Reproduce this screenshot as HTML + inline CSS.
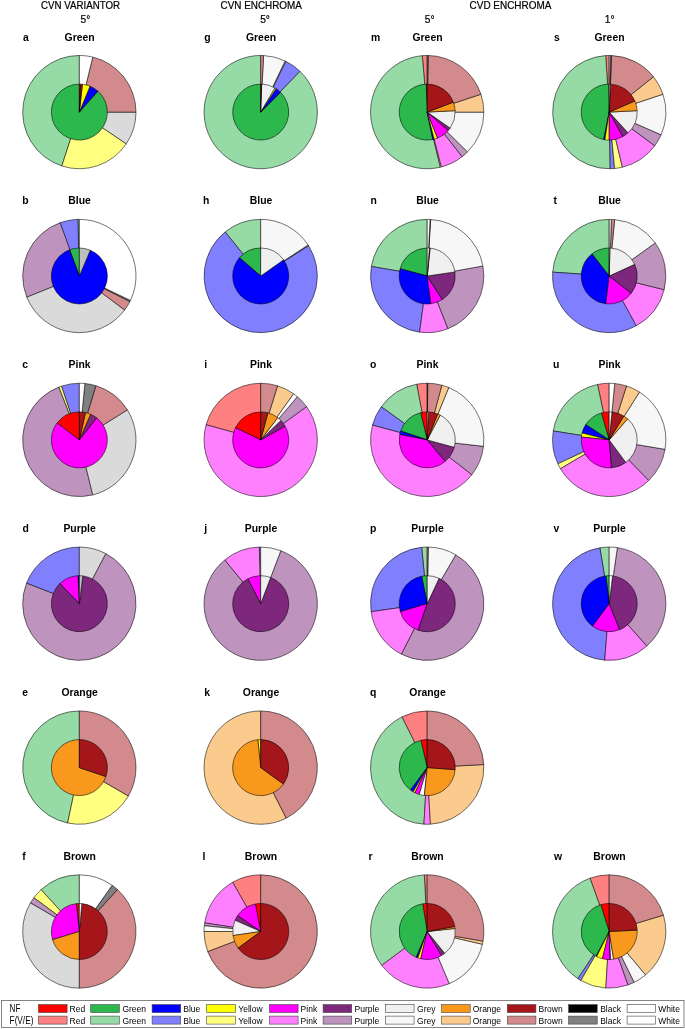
<!DOCTYPE html>
<html><head><meta charset="utf-8"><title>Figure</title>
<style>
html,body{margin:0;padding:0;background:#fff}
svg{display:block}
text{font-family:"Liberation Sans",sans-serif;fill:#000}
.b{font-weight:bold;font-size:10.4px}
.h{font-size:10.2px;stroke:#000;stroke-width:0.2px}
.l{font-size:8.5px}
.l2{font-size:10px}
</style></head><body>
<svg width="685" height="1029" viewBox="0 0 685 1029">
<rect width="685" height="1029" fill="#fff"/>
<g stroke="#000" stroke-width="0.55" stroke-linejoin="round"><path d="M79.35 112.10L79.35 55.45A56.65 56.65 0 0 0 61.84 165.98Z" fill="#96dba6"/><path d="M79.35 112.10L61.84 165.98A56.65 56.65 0 0 0 126.31 143.78Z" fill="#ffff80"/><path d="M79.35 112.10L126.31 143.78A56.65 56.65 0 0 0 136.00 112.10Z" fill="#dadada"/><path d="M79.35 112.10L136.00 112.10A56.65 56.65 0 0 0 92.77 57.06Z" fill="#d28a8c"/><path d="M79.35 112.10L92.77 57.06A56.65 56.65 0 0 0 79.35 55.45Z" fill="#ffffff"/><path d="M79.35 112.10L79.35 84.10A28.0 28.0 0 1 0 97.87 91.10Z" fill="#2db84d"/><path d="M79.35 112.10L97.87 91.10A28.0 28.0 0 0 0 89.97 86.19Z" fill="#0000ff"/><path d="M79.35 112.10L89.97 86.19A28.0 28.0 0 0 0 82.47 84.27Z" fill="#ffff00"/><path d="M79.35 112.10L82.47 84.27A28.0 28.0 0 0 0 80.57 84.13Z" fill="#a5161a"/><path d="M79.35 112.10L80.57 84.13A28.0 28.0 0 0 0 79.35 84.10Z" fill="#ff0000"/></g>
<text x="23.0" y="41.0" class="b">a</text>
<text x="79.6" y="41.0" class="b" text-anchor="middle">Green</text>
<g stroke="#000" stroke-width="0.55" stroke-linejoin="round"><path d="M260.70 112.10L260.70 55.45A56.65 56.65 0 1 0 299.91 71.21Z" fill="#96dba6"/><path d="M260.70 112.10L299.91 71.21A56.65 56.65 0 0 0 285.80 61.31Z" fill="#8080ff"/><path d="M260.70 112.10L285.80 61.31A56.65 56.65 0 0 0 285.09 60.97Z" fill="#ffff80"/><path d="M260.70 112.10L285.09 60.97A56.65 56.65 0 0 0 263.57 55.52Z" fill="#f7f7f7"/><path d="M260.70 112.10L263.57 55.52A56.65 56.65 0 0 0 260.70 55.45Z" fill="#d28a8c"/><path d="M260.70 112.10L260.70 84.10A28.0 28.0 0 1 0 280.50 92.30Z" fill="#2db84d"/><path d="M260.70 112.10L280.50 92.30A28.0 28.0 0 0 0 276.15 88.75Z" fill="#0000ff"/><path d="M260.70 112.10L276.15 88.75A28.0 28.0 0 0 0 274.91 87.97Z" fill="#ffff00"/><path d="M260.70 112.10L274.91 87.97A28.0 28.0 0 0 0 261.68 84.12Z" fill="#f0f0f0"/><path d="M260.70 112.10L261.68 84.12A28.0 28.0 0 0 0 260.70 84.10Z" fill="#a5161a"/></g>
<text x="204.2" y="41.0" class="b">g</text>
<text x="261.0" y="41.0" class="b" text-anchor="middle">Green</text>
<g stroke="#000" stroke-width="0.55" stroke-linejoin="round"><path d="M427.20 112.10L427.20 55.45A56.65 56.65 0 0 0 422.26 55.67Z" fill="#ff8080"/><path d="M427.20 112.10L422.26 55.67A56.65 56.65 0 1 0 440.33 167.21Z" fill="#96dba6"/><path d="M427.20 112.10L440.33 167.21A56.65 56.65 0 0 0 441.38 166.95Z" fill="#ffff80"/><path d="M427.20 112.10L441.38 166.95A56.65 56.65 0 0 0 462.16 156.68Z" fill="#ff80ff"/><path d="M427.20 112.10L462.16 156.68A56.65 56.65 0 0 0 467.54 151.88Z" fill="#be93be"/><path d="M427.20 112.10L467.54 151.88A56.65 56.65 0 0 0 483.85 112.10Z" fill="#f7f7f7"/><path d="M427.20 112.10L483.85 112.10A56.65 56.65 0 0 0 480.95 94.22Z" fill="#fbcb8e"/><path d="M427.20 112.10L480.95 94.22A56.65 56.65 0 0 0 428.19 55.46Z" fill="#d28a8c"/><path d="M427.20 112.10L428.19 55.46A56.65 56.65 0 0 0 427.20 55.45Z" fill="#808080"/><path d="M427.20 112.10L427.20 84.10A28.0 28.0 0 0 0 426.22 84.12Z" fill="#ff0000"/><path d="M427.20 112.10L426.22 84.12A28.0 28.0 0 1 0 432.83 139.53Z" fill="#2db84d"/><path d="M427.20 112.10L432.83 139.53A28.0 28.0 0 0 0 434.21 139.21Z" fill="#0000ff"/><path d="M427.20 112.10L434.21 139.21A28.0 28.0 0 0 0 437.55 138.12Z" fill="#ffff00"/><path d="M427.20 112.10L437.55 138.12A28.0 28.0 0 0 0 448.30 130.51Z" fill="#ff00ff"/><path d="M427.20 112.10L448.30 130.51A28.0 28.0 0 0 0 450.16 128.12Z" fill="#7d287d"/><path d="M427.20 112.10L450.16 128.12A28.0 28.0 0 0 0 455.16 110.68Z" fill="#f0f0f0"/><path d="M427.20 112.10L455.16 110.68A28.0 28.0 0 0 0 453.38 102.16Z" fill="#f8981d"/><path d="M427.20 112.10L453.38 102.16A28.0 28.0 0 0 0 427.20 84.10Z" fill="#a5161a"/></g>
<text x="370.9" y="41.0" class="b">m</text>
<text x="427.5" y="41.0" class="b" text-anchor="middle">Green</text>
<g stroke="#000" stroke-width="0.55" stroke-linejoin="round"><path d="M609.20 112.10L609.20 55.45A56.65 56.65 0 0 0 605.74 55.56Z" fill="#ff8080"/><path d="M609.20 112.10L605.74 55.56A56.65 56.65 0 0 0 610.19 168.74Z" fill="#96dba6"/><path d="M609.20 112.10L610.19 168.74A56.65 56.65 0 0 0 614.63 168.49Z" fill="#8080ff"/><path d="M609.20 112.10L614.63 168.49A56.65 56.65 0 0 0 622.42 167.18Z" fill="#ffff80"/><path d="M609.20 112.10L622.42 167.18A56.65 56.65 0 0 0 654.80 145.72Z" fill="#ff80ff"/><path d="M609.20 112.10L654.80 145.72A56.65 56.65 0 0 0 661.11 134.78Z" fill="#be93be"/><path d="M609.20 112.10L661.11 134.78A56.65 56.65 0 0 0 662.95 94.22Z" fill="#f7f7f7"/><path d="M609.20 112.10L662.95 94.22A56.65 56.65 0 0 0 653.47 76.76Z" fill="#fbcb8e"/><path d="M609.20 112.10L653.47 76.76A56.65 56.65 0 0 0 611.57 55.50Z" fill="#d28a8c"/><path d="M609.20 112.10L611.57 55.50A56.65 56.65 0 0 0 610.39 55.46Z" fill="#808080"/><path d="M609.20 112.10L610.39 55.46A56.65 56.65 0 0 0 609.20 55.45Z" fill="#ffffff"/><path d="M609.20 112.10L609.20 84.10A28.0 28.0 0 0 0 608.71 84.10Z" fill="#ff0000"/><path d="M609.20 112.10L608.71 84.10A28.0 28.0 0 0 0 603.71 139.56Z" fill="#2db84d"/><path d="M609.20 112.10L603.71 139.56A28.0 28.0 0 0 0 604.96 139.78Z" fill="#0000ff"/><path d="M609.20 112.10L604.96 139.78A28.0 28.0 0 0 0 609.20 140.10Z" fill="#ffff00"/><path d="M609.20 112.10L609.20 140.10A28.0 28.0 0 0 0 622.77 136.59Z" fill="#ff00ff"/><path d="M609.20 112.10L622.77 136.59A28.0 28.0 0 0 0 628.01 132.84Z" fill="#7d287d"/><path d="M609.20 112.10L628.01 132.84A28.0 28.0 0 0 0 637.16 110.68Z" fill="#f0f0f0"/><path d="M609.20 112.10L637.16 110.68A28.0 28.0 0 0 0 634.88 100.94Z" fill="#f8981d"/><path d="M609.20 112.10L634.88 100.94A28.0 28.0 0 0 0 610.42 84.13Z" fill="#a5161a"/><path d="M609.20 112.10L610.42 84.13A28.0 28.0 0 0 0 609.20 84.10Z" fill="#f0f0f0"/></g>
<text x="554.0" y="41.0" class="b">s</text>
<text x="609.5" y="41.0" class="b" text-anchor="middle">Green</text>
<g stroke="#000" stroke-width="0.55" stroke-linejoin="round"><path d="M79.35 276.00L79.35 219.35A56.65 56.65 0 0 0 77.87 219.37Z" fill="#96dba6"/><path d="M79.35 276.00L77.87 219.37A56.65 56.65 0 0 0 60.07 222.73Z" fill="#8080ff"/><path d="M79.35 276.00L60.07 222.73A56.65 56.65 0 0 0 26.83 297.22Z" fill="#be93be"/><path d="M79.35 276.00L26.83 297.22A56.65 56.65 0 0 0 124.65 310.01Z" fill="#dadada"/><path d="M79.35 276.00L124.65 310.01A56.65 56.65 0 0 0 129.91 301.54Z" fill="#d28a8c"/><path d="M79.35 276.00L129.91 301.54A56.65 56.65 0 0 0 130.48 300.39Z" fill="#808080"/><path d="M79.35 276.00L130.48 300.39A56.65 56.65 0 0 0 79.35 219.35Z" fill="#ffffff"/><path d="M79.35 276.00L79.35 248.00A28.0 28.0 0 0 0 69.59 249.76Z" fill="#2db84d"/><path d="M79.35 276.00L69.59 249.76A28.0 28.0 0 1 0 90.29 250.23Z" fill="#0000ff"/><path d="M79.35 276.00L90.29 250.23A28.0 28.0 0 0 0 79.35 248.00Z" fill="#bfbfbf"/></g>
<text x="22.2" y="204.0" class="b">b</text>
<text x="79.6" y="204.0" class="b" text-anchor="middle">Blue</text>
<g stroke="#000" stroke-width="0.55" stroke-linejoin="round"><path d="M260.70 276.00L260.70 219.35A56.65 56.65 0 0 0 225.13 231.91Z" fill="#96dba6"/><path d="M260.70 276.00L225.13 231.91A56.65 56.65 0 1 0 308.53 245.65Z" fill="#8080ff"/><path d="M260.70 276.00L308.53 245.65A56.65 56.65 0 0 0 308.10 244.98Z" fill="#be93be"/><path d="M260.70 276.00L308.10 244.98A56.65 56.65 0 0 0 260.70 219.35Z" fill="#f7f7f7"/><path d="M260.70 276.00L260.70 248.00A28.0 28.0 0 0 0 239.47 257.74Z" fill="#2db84d"/><path d="M260.70 276.00L239.47 257.74A28.0 28.0 0 1 0 283.58 259.86Z" fill="#0000ff"/><path d="M260.70 276.00L283.58 259.86A28.0 28.0 0 0 0 260.70 248.00Z" fill="#f0f0f0"/></g>
<text x="203.0" y="204.0" class="b">h</text>
<text x="261.0" y="204.0" class="b" text-anchor="middle">Blue</text>
<g stroke="#000" stroke-width="0.55" stroke-linejoin="round"><path d="M427.20 276.00L427.20 219.35A56.65 56.65 0 0 0 371.36 266.46Z" fill="#96dba6"/><path d="M427.20 276.00L371.36 266.46A56.65 56.65 0 0 0 419.61 332.14Z" fill="#8080ff"/><path d="M427.20 276.00L419.61 332.14A56.65 56.65 0 0 0 447.96 328.71Z" fill="#ff80ff"/><path d="M427.20 276.00L447.96 328.71A56.65 56.65 0 0 0 482.95 265.97Z" fill="#be93be"/><path d="M427.20 276.00L482.95 265.97A56.65 56.65 0 0 0 430.66 219.46Z" fill="#f7f7f7"/><path d="M427.20 276.00L430.66 219.46A56.65 56.65 0 0 0 430.07 219.42Z" fill="#d28a8c"/><path d="M427.20 276.00L430.07 219.42A56.65 56.65 0 0 0 427.20 219.35Z" fill="#ffffff"/><path d="M427.20 276.00L427.20 248.00A28.0 28.0 0 0 0 400.14 268.80Z" fill="#2db84d"/><path d="M427.20 276.00L400.14 268.80A28.0 28.0 0 0 0 430.85 303.76Z" fill="#0000ff"/><path d="M427.20 276.00L430.85 303.76A28.0 28.0 0 0 0 442.37 299.54Z" fill="#ff00ff"/><path d="M427.20 276.00L442.37 299.54A28.0 28.0 0 0 0 454.90 271.91Z" fill="#7d287d"/><path d="M427.20 276.00L454.90 271.91A28.0 28.0 0 0 0 430.13 248.15Z" fill="#f0f0f0"/><path d="M427.20 276.00L430.13 248.15A28.0 28.0 0 0 0 429.35 248.08Z" fill="#a5161a"/><path d="M427.20 276.00L429.35 248.08A28.0 28.0 0 0 0 427.20 248.00Z" fill="#ffffff"/></g>
<text x="370.5" y="204.0" class="b">n</text>
<text x="427.5" y="204.0" class="b" text-anchor="middle">Blue</text>
<g stroke="#000" stroke-width="0.55" stroke-linejoin="round"><path d="M609.20 276.00L609.20 219.35A56.65 56.65 0 0 0 552.68 272.15Z" fill="#96dba6"/><path d="M609.20 276.00L552.68 272.15A56.65 56.65 0 0 0 636.32 325.74Z" fill="#8080ff"/><path d="M609.20 276.00L636.32 325.74A56.65 56.65 0 0 0 664.17 289.70Z" fill="#ff80ff"/><path d="M609.20 276.00L664.17 289.70A56.65 56.65 0 0 0 655.20 242.94Z" fill="#be93be"/><path d="M609.20 276.00L655.20 242.94A56.65 56.65 0 0 0 614.63 219.61Z" fill="#f7f7f7"/><path d="M609.20 276.00L614.63 219.61A56.65 56.65 0 0 0 611.57 219.40Z" fill="#d28a8c"/><path d="M609.20 276.00L611.57 219.40A56.65 56.65 0 0 0 609.20 219.35Z" fill="#e2e2e2"/><path d="M609.20 276.00L609.20 248.00A28.0 28.0 0 0 0 591.96 253.94Z" fill="#2db84d"/><path d="M609.20 276.00L591.96 253.94A28.0 28.0 0 0 0 605.84 303.80Z" fill="#0000ff"/><path d="M609.20 276.00L605.84 303.80A28.0 28.0 0 0 0 631.29 293.20Z" fill="#ff00ff"/><path d="M609.20 276.00L631.29 293.20A28.0 28.0 0 0 0 634.66 264.34Z" fill="#7d287d"/><path d="M609.20 276.00L634.66 264.34A28.0 28.0 0 0 0 609.93 248.01Z" fill="#f0f0f0"/><path d="M609.20 276.00L609.93 248.01A28.0 28.0 0 0 0 609.20 248.00Z" fill="#ffffff"/></g>
<text x="553.5" y="204.0" class="b">t</text>
<text x="609.5" y="204.0" class="b" text-anchor="middle">Blue</text>
<g stroke="#000" stroke-width="0.55" stroke-linejoin="round"><path d="M79.35 439.90L79.35 383.25A56.65 56.65 0 0 0 61.47 386.15Z" fill="#8080ff"/><path d="M79.35 439.90L61.47 386.15A56.65 56.65 0 0 0 58.77 387.12Z" fill="#ffff80"/><path d="M79.35 439.90L58.77 387.12A56.65 56.65 0 0 0 92.77 494.94Z" fill="#be93be"/><path d="M79.35 439.90L92.77 494.94A56.65 56.65 0 0 0 127.39 409.88Z" fill="#dadada"/><path d="M79.35 439.90L127.39 409.88A56.65 56.65 0 0 0 95.91 385.73Z" fill="#d28a8c"/><path d="M79.35 439.90L95.91 385.73A56.65 56.65 0 0 0 84.88 383.52Z" fill="#808080"/><path d="M79.35 439.90L84.88 383.52A56.65 56.65 0 0 0 79.35 383.25Z" fill="#ffffff"/><path d="M79.35 439.90L79.35 411.90A28.0 28.0 0 0 0 57.05 422.97Z" fill="#ff0000"/><path d="M79.35 439.90L57.05 422.97A28.0 28.0 0 1 0 96.59 417.84Z" fill="#ff00ff"/><path d="M79.35 439.90L96.59 417.84A28.0 28.0 0 0 0 90.60 414.26Z" fill="#7d287d"/><path d="M79.35 439.90L90.60 414.26A28.0 28.0 0 0 0 85.46 412.57Z" fill="#f8981d"/><path d="M79.35 439.90L85.46 412.57A28.0 28.0 0 0 0 79.35 411.90Z" fill="#a5161a"/></g>
<text x="22.2" y="368.0" class="b">c</text>
<text x="79.6" y="368.0" class="b" text-anchor="middle">Pink</text>
<g stroke="#000" stroke-width="0.55" stroke-linejoin="round"><path d="M260.70 439.90L260.70 383.25A56.65 56.65 0 0 0 206.11 424.76Z" fill="#ff8080"/><path d="M260.70 439.90L206.11 424.76A56.65 56.65 0 1 0 306.59 406.68Z" fill="#ff80ff"/><path d="M260.70 439.90L306.59 406.68A56.65 56.65 0 0 0 297.34 396.69Z" fill="#be93be"/><path d="M260.70 439.90L297.34 396.69A56.65 56.65 0 0 0 293.52 393.72Z" fill="#ffffff"/><path d="M260.70 439.90L293.52 393.72A56.65 56.65 0 0 0 277.55 385.81Z" fill="#fbcb8e"/><path d="M260.70 439.90L277.55 385.81A56.65 56.65 0 0 0 260.70 383.25Z" fill="#d28a8c"/><path d="M260.70 439.90L260.70 411.90A28.0 28.0 0 0 0 235.49 427.71Z" fill="#ff0000"/><path d="M260.70 439.90L235.49 427.71A28.0 28.0 0 1 0 285.09 426.15Z" fill="#ff00ff"/><path d="M260.70 439.90L285.09 426.15A28.0 28.0 0 0 0 280.91 420.52Z" fill="#7d287d"/><path d="M260.70 439.90L280.91 420.52A28.0 28.0 0 0 0 277.71 417.66Z" fill="#f0f0f0"/><path d="M260.70 439.90L277.71 417.66A28.0 28.0 0 0 0 267.95 412.85Z" fill="#f8981d"/><path d="M260.70 439.90L267.95 412.85A28.0 28.0 0 0 0 260.70 411.90Z" fill="#a5161a"/></g>
<text x="204.2" y="368.0" class="b">i</text>
<text x="261.0" y="368.0" class="b" text-anchor="middle">Pink</text>
<g stroke="#000" stroke-width="0.55" stroke-linejoin="round"><path d="M427.20 439.90L427.20 383.25A56.65 56.65 0 0 0 416.68 384.23Z" fill="#ff8080"/><path d="M427.20 439.90L416.68 384.23A56.65 56.65 0 0 0 381.25 406.76Z" fill="#96dba6"/><path d="M427.20 439.90L381.25 406.76A56.65 56.65 0 0 0 372.51 425.14Z" fill="#8080ff"/><path d="M427.20 439.90L372.51 425.14A56.65 56.65 0 0 0 471.90 474.70Z" fill="#ff80ff"/><path d="M427.20 439.90L471.90 474.70A56.65 56.65 0 0 0 483.49 446.31Z" fill="#be93be"/><path d="M427.20 439.90L483.49 446.31A56.65 56.65 0 0 0 448.79 387.52Z" fill="#f7f7f7"/><path d="M427.20 439.90L448.79 387.52A56.65 56.65 0 0 0 441.86 385.18Z" fill="#fbcb8e"/><path d="M427.20 439.90L441.86 385.18A56.65 56.65 0 0 0 427.69 383.25Z" fill="#d28a8c"/><path d="M427.20 439.90L427.69 383.25A56.65 56.65 0 0 0 427.20 383.25Z" fill="#808080"/><path d="M427.20 439.90L427.20 411.90A28.0 28.0 0 0 0 420.62 412.69Z" fill="#ff0000"/><path d="M427.20 439.90L420.62 412.69A28.0 28.0 0 0 0 400.63 431.06Z" fill="#2db84d"/><path d="M427.20 439.90L400.63 431.06A28.0 28.0 0 0 0 399.72 434.51Z" fill="#0000ff"/><path d="M427.20 439.90L399.72 434.51A28.0 28.0 0 0 0 445.20 461.35Z" fill="#ff00ff"/><path d="M427.20 439.90L445.20 461.35A28.0 28.0 0 0 0 454.19 447.34Z" fill="#7d287d"/><path d="M427.20 439.90L454.19 447.34A28.0 28.0 0 0 0 440.22 415.11Z" fill="#f0f0f0"/><path d="M427.20 439.90L440.22 415.11A28.0 28.0 0 0 0 437.64 413.92Z" fill="#f8981d"/><path d="M427.20 439.90L437.64 413.92A28.0 28.0 0 0 0 428.37 411.92Z" fill="#a5161a"/><path d="M427.20 439.90L428.37 411.92A28.0 28.0 0 0 0 427.20 411.90Z" fill="#ffffff"/></g>
<text x="369.9" y="368.0" class="b">o</text>
<text x="427.5" y="368.0" class="b" text-anchor="middle">Pink</text>
<g stroke="#000" stroke-width="0.55" stroke-linejoin="round"><path d="M609.20 439.90L609.20 383.25A56.65 56.65 0 0 0 597.52 384.47Z" fill="#ff8080"/><path d="M609.20 439.90L597.52 384.47A56.65 56.65 0 0 0 553.26 430.94Z" fill="#96dba6"/><path d="M609.20 439.90L553.26 430.94A56.65 56.65 0 0 0 557.86 463.84Z" fill="#8080ff"/><path d="M609.20 439.90L557.86 463.84A56.65 56.65 0 0 0 560.44 468.74Z" fill="#ffff80"/><path d="M609.20 439.90L560.44 468.74A56.65 56.65 0 0 0 648.77 480.44Z" fill="#ff80ff"/><path d="M609.20 439.90L648.77 480.44A56.65 56.65 0 0 0 665.06 449.35Z" fill="#be93be"/><path d="M609.20 439.90L665.06 449.35A56.65 56.65 0 0 0 639.47 392.02Z" fill="#f7f7f7"/><path d="M609.20 439.90L639.47 392.02A56.65 56.65 0 0 0 626.52 385.96Z" fill="#fbcb8e"/><path d="M609.20 439.90L626.52 385.96A56.65 56.65 0 0 0 614.73 383.52Z" fill="#d28a8c"/><path d="M609.20 439.90L614.73 383.52A56.65 56.65 0 0 0 609.20 383.25Z" fill="#ffffff"/><path d="M609.20 439.90L609.20 411.90A28.0 28.0 0 0 0 601.34 413.03Z" fill="#ff0000"/><path d="M609.20 439.90L601.34 413.03A28.0 28.0 0 0 0 585.74 424.61Z" fill="#2db84d"/><path d="M609.20 439.90L585.74 424.61A28.0 28.0 0 0 0 582.07 432.98Z" fill="#0000ff"/><path d="M609.20 439.90L582.07 432.98A28.0 28.0 0 0 0 581.34 437.07Z" fill="#ffff00"/><path d="M609.20 439.90L581.34 437.07A28.0 28.0 0 0 0 611.54 467.80Z" fill="#ff00ff"/><path d="M609.20 439.90L611.54 467.80A28.0 28.0 0 0 0 625.86 462.41Z" fill="#7d287d"/><path d="M609.20 439.90L625.86 462.41A28.0 28.0 0 0 0 627.68 418.86Z" fill="#f0f0f0"/><path d="M609.20 439.90L627.68 418.86A28.0 28.0 0 0 0 623.79 416.00Z" fill="#f8981d"/><path d="M609.20 439.90L623.79 416.00A28.0 28.0 0 0 0 611.93 412.03Z" fill="#a5161a"/><path d="M609.20 439.90L611.93 412.03A28.0 28.0 0 0 0 609.20 411.90Z" fill="#ffffff"/></g>
<text x="553.0" y="368.0" class="b">u</text>
<text x="609.5" y="368.0" class="b" text-anchor="middle">Pink</text>
<g stroke="#000" stroke-width="0.55" stroke-linejoin="round"><path d="M79.35 603.70L79.35 547.05A56.65 56.65 0 0 0 26.53 583.21Z" fill="#8080ff"/><path d="M79.35 603.70L26.53 583.21A56.65 56.65 0 1 0 105.77 553.59Z" fill="#be93be"/><path d="M79.35 603.70L105.77 553.59A56.65 56.65 0 0 0 79.35 547.05Z" fill="#dadada"/><path d="M79.35 603.70L79.35 575.70A28.0 28.0 0 0 0 77.88 575.74Z" fill="#0000ff"/><path d="M79.35 603.70L77.88 575.74A28.0 28.0 0 0 0 59.86 583.59Z" fill="#ff00ff"/><path d="M79.35 603.70L59.86 583.59A28.0 28.0 0 1 0 82.81 575.91Z" fill="#7d287d"/><path d="M79.35 603.70L82.81 575.91A28.0 28.0 0 0 0 79.35 575.70Z" fill="#bfbfbf"/></g>
<text x="22.6" y="532.0" class="b">d</text>
<text x="79.6" y="532.0" class="b" text-anchor="middle">Purple</text>
<g stroke="#000" stroke-width="0.55" stroke-linejoin="round"><path d="M260.70 603.70L260.70 547.05A56.65 56.65 0 0 0 259.22 547.07Z" fill="#8080ff"/><path d="M260.70 603.70L259.22 547.07A56.65 56.65 0 0 0 224.67 559.99Z" fill="#ff80ff"/><path d="M260.70 603.70L224.67 559.99A56.65 56.65 0 1 0 280.82 550.74Z" fill="#be93be"/><path d="M260.70 603.70L280.82 550.74A56.65 56.65 0 0 0 260.70 547.05Z" fill="#f7f7f7"/><path d="M260.70 603.70L260.70 575.70A28.0 28.0 0 0 0 247.77 578.86Z" fill="#ff00ff"/><path d="M260.70 603.70L247.77 578.86A28.0 28.0 0 1 0 270.64 577.52Z" fill="#7d287d"/><path d="M260.70 603.70L270.64 577.52A28.0 28.0 0 0 0 260.70 575.70Z" fill="#f0f0f0"/></g>
<text x="204.2" y="532.0" class="b">j</text>
<text x="261.0" y="532.0" class="b" text-anchor="middle">Purple</text>
<g stroke="#000" stroke-width="0.55" stroke-linejoin="round"><path d="M427.20 603.70L427.20 547.05A56.65 56.65 0 0 0 421.67 547.32Z" fill="#96dba6"/><path d="M427.20 603.70L421.67 547.32A56.65 56.65 0 0 0 371.13 611.78Z" fill="#8080ff"/><path d="M427.20 603.70L371.13 611.78A56.65 56.65 0 0 0 401.48 654.18Z" fill="#ff80ff"/><path d="M427.20 603.70L401.48 654.18A56.65 56.65 0 0 0 455.78 554.79Z" fill="#be93be"/><path d="M427.20 603.70L455.78 554.79A56.65 56.65 0 0 0 428.29 547.06Z" fill="#f7f7f7"/><path d="M427.20 603.70L428.29 547.06A56.65 56.65 0 0 0 427.20 547.05Z" fill="#d28a8c"/><path d="M427.20 603.70L427.20 575.70A28.0 28.0 0 0 0 421.62 576.26Z" fill="#2db84d"/><path d="M427.20 603.70L421.62 576.26A28.0 28.0 0 0 0 400.35 611.65Z" fill="#0000ff"/><path d="M427.20 603.70L400.35 611.65A28.0 28.0 0 0 0 418.18 630.21Z" fill="#ff00ff"/><path d="M427.20 603.70L418.18 630.21A28.0 28.0 0 0 0 439.08 578.34Z" fill="#7d287d"/><path d="M427.20 603.70L439.08 578.34A28.0 28.0 0 0 0 427.20 575.70Z" fill="#f0f0f0"/></g>
<text x="370.1" y="532.0" class="b">p</text>
<text x="427.5" y="532.0" class="b" text-anchor="middle">Purple</text>
<g stroke="#000" stroke-width="0.55" stroke-linejoin="round"><path d="M609.20 603.70L609.20 547.05A56.65 56.65 0 0 0 599.85 547.83Z" fill="#96dba6"/><path d="M609.20 603.70L599.85 547.83A56.65 56.65 0 0 0 604.76 660.18Z" fill="#8080ff"/><path d="M609.20 603.70L604.76 660.18A56.65 56.65 0 0 0 646.89 646.00Z" fill="#ff80ff"/><path d="M609.20 603.70L646.89 646.00A56.65 56.65 0 0 0 617.38 547.64Z" fill="#be93be"/><path d="M609.20 603.70L617.38 547.64A56.65 56.65 0 0 0 609.20 547.05Z" fill="#f7f7f7"/><path d="M609.20 603.70L609.20 575.70A28.0 28.0 0 0 0 605.84 575.90Z" fill="#2db84d"/><path d="M609.20 603.70L605.84 575.90A28.0 28.0 0 0 0 592.58 626.24Z" fill="#0000ff"/><path d="M609.20 603.70L592.58 626.24A28.0 28.0 0 0 0 619.73 629.64Z" fill="#ff00ff"/><path d="M609.20 603.70L619.73 629.64A28.0 28.0 0 0 0 612.56 575.90Z" fill="#7d287d"/><path d="M609.20 603.70L612.56 575.90A28.0 28.0 0 0 0 609.20 575.70Z" fill="#ffffff"/></g>
<text x="553.5" y="532.0" class="b">v</text>
<text x="609.5" y="532.0" class="b" text-anchor="middle">Purple</text>
<g stroke="#000" stroke-width="0.55" stroke-linejoin="round"><path d="M79.35 767.60L79.35 710.95A56.65 56.65 0 0 0 67.67 823.03Z" fill="#96dba6"/><path d="M79.35 767.60L67.67 823.03A56.65 56.65 0 0 0 128.36 796.01Z" fill="#ffff80"/><path d="M79.35 767.60L128.36 796.01A56.65 56.65 0 0 0 79.35 710.95Z" fill="#d28a8c"/><path d="M79.35 767.60L79.35 739.60A28.0 28.0 0 1 0 105.89 776.53Z" fill="#f8981d"/><path d="M79.35 767.60L105.89 776.53A28.0 28.0 0 0 0 79.35 739.60Z" fill="#a5161a"/></g>
<text x="22.2" y="696.0" class="b">e</text>
<text x="79.6" y="696.0" class="b" text-anchor="middle">Orange</text>
<g stroke="#000" stroke-width="0.55" stroke-linejoin="round"><path d="M260.70 767.60L260.70 710.95A56.65 56.65 0 1 0 286.24 818.16Z" fill="#fbcb8e"/><path d="M260.70 767.60L286.24 818.16A56.65 56.65 0 0 0 260.70 710.95Z" fill="#d28a8c"/><path d="M260.70 767.60L260.70 739.60A28.0 28.0 0 0 0 257.82 739.75Z" fill="#ffff00"/><path d="M260.70 767.60L257.82 739.75A28.0 28.0 0 1 0 283.41 783.98Z" fill="#f8981d"/><path d="M260.70 767.60L283.41 783.98A28.0 28.0 0 0 0 260.70 739.60Z" fill="#a5161a"/></g>
<text x="204.2" y="696.0" class="b">k</text>
<text x="261.0" y="696.0" class="b" text-anchor="middle">Orange</text>
<g stroke="#000" stroke-width="0.55" stroke-linejoin="round"><path d="M427.20 767.60L427.20 710.95A56.65 56.65 0 0 0 401.92 716.90Z" fill="#ff8080"/><path d="M427.20 767.60L401.92 716.90A56.65 56.65 0 0 0 423.94 824.16Z" fill="#96dba6"/><path d="M427.20 767.60L423.94 824.16A56.65 56.65 0 0 0 430.46 824.16Z" fill="#ff80ff"/><path d="M427.20 767.60L430.46 824.16A56.65 56.65 0 0 0 483.77 764.54Z" fill="#fbcb8e"/><path d="M427.20 767.60L483.77 764.54A56.65 56.65 0 0 0 427.20 710.95Z" fill="#d28a8c"/><path d="M427.20 767.60L427.20 739.60A28.0 28.0 0 0 0 420.85 740.33Z" fill="#ff0000"/><path d="M427.20 767.60L420.85 740.33A28.0 28.0 0 0 0 410.47 790.05Z" fill="#2db84d"/><path d="M427.20 767.60L410.47 790.05A28.0 28.0 0 0 0 413.24 791.87Z" fill="#0000ff"/><path d="M427.20 767.60L413.24 791.87A28.0 28.0 0 0 0 414.93 792.77Z" fill="#ffff00"/><path d="M427.20 767.60L414.93 792.77A28.0 28.0 0 0 0 419.34 794.47Z" fill="#ff00ff"/><path d="M427.20 767.60L419.34 794.47A28.0 28.0 0 0 0 424.37 795.46Z" fill="#ffffff"/><path d="M427.20 767.60L424.37 795.46A28.0 28.0 0 0 0 455.12 769.65Z" fill="#f8981d"/><path d="M427.20 767.60L455.12 769.65A28.0 28.0 0 0 0 427.20 739.60Z" fill="#a5161a"/></g>
<text x="370.1" y="696.0" class="b">q</text>
<text x="427.5" y="696.0" class="b" text-anchor="middle">Orange</text>
<g stroke="#000" stroke-width="0.55" stroke-linejoin="round"><path d="M79.35 931.50L79.35 874.85A56.65 56.65 0 0 0 41.08 889.73Z" fill="#96dba6"/><path d="M79.35 931.50L41.08 889.73A56.65 56.65 0 0 0 33.87 897.72Z" fill="#ffff80"/><path d="M79.35 931.50L33.87 897.72A56.65 56.65 0 0 0 30.44 902.92Z" fill="#be93be"/><path d="M79.35 931.50L30.44 902.92A56.65 56.65 0 0 0 79.35 988.15Z" fill="#dadada"/><path d="M79.35 931.50L79.35 988.15A56.65 56.65 0 0 0 117.40 889.53Z" fill="#d28a8c"/><path d="M79.35 931.50L117.40 889.53A56.65 56.65 0 0 0 112.17 885.32Z" fill="#808080"/><path d="M79.35 931.50L112.17 885.32A56.65 56.65 0 0 0 79.35 874.85Z" fill="#ffffff"/><path d="M79.35 931.50L79.35 903.50A28.0 28.0 0 0 0 76.33 903.66Z" fill="#ff0000"/><path d="M79.35 931.50L76.33 903.66A28.0 28.0 0 0 0 52.56 939.64Z" fill="#ff00ff"/><path d="M79.35 931.50L52.56 939.64A28.0 28.0 0 0 0 79.35 959.50Z" fill="#f8981d"/><path d="M79.35 931.50L79.35 959.50A28.0 28.0 0 0 0 81.79 903.61Z" fill="#a5161a"/><path d="M79.35 931.50L81.79 903.61A28.0 28.0 0 0 0 79.35 903.50Z" fill="#ffffff"/></g>
<text x="22.2" y="860.0" class="b">f</text>
<text x="79.6" y="860.0" class="b" text-anchor="middle">Brown</text>
<g stroke="#000" stroke-width="0.55" stroke-linejoin="round"><path d="M260.70 931.50L260.70 874.85A56.65 56.65 0 0 0 232.63 882.29Z" fill="#ff8080"/><path d="M260.70 931.50L232.63 882.29A56.65 56.65 0 0 0 204.70 922.93Z" fill="#ff80ff"/><path d="M260.70 931.50L204.70 922.93A56.65 56.65 0 0 0 204.34 925.78Z" fill="#be93be"/><path d="M260.70 931.50L204.34 925.78A56.65 56.65 0 0 0 204.05 931.50Z" fill="#f7f7f7"/><path d="M260.70 931.50L204.05 931.50A56.65 56.65 0 0 0 207.78 951.71Z" fill="#fbcb8e"/><path d="M260.70 931.50L207.78 951.71A56.65 56.65 0 1 0 260.70 874.85Z" fill="#d28a8c"/><path d="M260.70 931.50L260.70 903.50A28.0 28.0 0 0 0 255.41 904.01Z" fill="#ff0000"/><path d="M260.70 931.50L255.41 904.01A28.0 28.0 0 0 0 237.60 915.68Z" fill="#ff00ff"/><path d="M260.70 931.50L237.60 915.68A28.0 28.0 0 0 0 235.04 920.29Z" fill="#7d287d"/><path d="M260.70 931.50L235.04 920.29A28.0 28.0 0 0 0 233.00 935.59Z" fill="#f0f0f0"/><path d="M260.70 931.50L233.00 935.59A28.0 28.0 0 0 0 238.13 948.08Z" fill="#f8981d"/><path d="M260.70 931.50L238.13 948.08A28.0 28.0 0 1 0 260.70 903.50Z" fill="#a5161a"/></g>
<text x="202.4" y="860.0" class="b">l</text>
<text x="261.0" y="860.0" class="b" text-anchor="middle">Brown</text>
<g stroke="#000" stroke-width="0.55" stroke-linejoin="round"><path d="M427.20 931.50L427.20 874.85A56.65 56.65 0 0 0 424.33 874.92Z" fill="#ff8080"/><path d="M427.20 931.50L424.33 874.92A56.65 56.65 0 0 0 381.78 965.36Z" fill="#96dba6"/><path d="M427.20 931.50L381.78 965.36A56.65 56.65 0 0 0 449.33 983.65Z" fill="#ff80ff"/><path d="M427.20 931.50L449.33 983.65A56.65 56.65 0 0 0 482.40 944.24Z" fill="#f7f7f7"/><path d="M427.20 931.50L482.40 944.24A56.65 56.65 0 0 0 483.02 941.14Z" fill="#fbcb8e"/><path d="M427.20 931.50L483.02 941.14A56.65 56.65 0 0 0 427.20 874.85Z" fill="#d28a8c"/><path d="M427.20 931.50L427.20 903.50A28.0 28.0 0 0 0 422.68 903.87Z" fill="#ff0000"/><path d="M427.20 931.50L422.68 903.87A28.0 28.0 0 0 0 416.26 957.27Z" fill="#2db84d"/><path d="M427.20 931.50L416.26 957.27A28.0 28.0 0 0 0 417.85 957.89Z" fill="#0000ff"/><path d="M427.20 931.50L417.85 957.89A28.0 28.0 0 0 0 420.76 958.75Z" fill="#ffff00"/><path d="M427.20 931.50L420.76 958.75A28.0 28.0 0 0 0 441.45 955.60Z" fill="#ff00ff"/><path d="M427.20 931.50L441.45 955.60A28.0 28.0 0 0 0 444.74 953.32Z" fill="#7d287d"/><path d="M427.20 931.50L444.74 953.32A28.0 28.0 0 0 0 455.04 928.48Z" fill="#f0f0f0"/><path d="M427.20 931.50L455.04 928.48A28.0 28.0 0 0 0 454.74 926.45Z" fill="#f8981d"/><path d="M427.20 931.50L454.74 926.45A28.0 28.0 0 0 0 427.20 903.50Z" fill="#a5161a"/></g>
<text x="368.5" y="860.0" class="b">r</text>
<text x="427.5" y="860.0" class="b" text-anchor="middle">Brown</text>
<g stroke="#000" stroke-width="0.55" stroke-linejoin="round"><path d="M609.20 931.50L609.20 874.85A56.65 56.65 0 0 0 590.01 878.20Z" fill="#ff8080"/><path d="M609.20 931.50L590.01 878.20A56.65 56.65 0 0 0 577.85 978.68Z" fill="#96dba6"/><path d="M609.20 931.50L577.85 978.68A56.65 56.65 0 0 0 580.88 980.56Z" fill="#8080ff"/><path d="M609.20 931.50L580.88 980.56A56.65 56.65 0 0 0 605.84 988.05Z" fill="#ffff80"/><path d="M609.20 931.50L605.84 988.05A56.65 56.65 0 0 0 628.02 984.93Z" fill="#ff80ff"/><path d="M609.20 931.50L628.02 984.93A56.65 56.65 0 0 0 634.21 982.33Z" fill="#be93be"/><path d="M609.20 931.50L634.21 982.33A56.65 56.65 0 0 0 645.61 974.90Z" fill="#f7f7f7"/><path d="M609.20 931.50L645.61 974.90A56.65 56.65 0 0 0 663.43 915.13Z" fill="#fbcb8e"/><path d="M609.20 931.50L663.43 915.13A56.65 56.65 0 0 0 609.20 874.85Z" fill="#d28a8c"/><path d="M609.20 931.50L609.20 903.50A28.0 28.0 0 0 0 600.78 904.80Z" fill="#ff0000"/><path d="M609.20 931.50L600.78 904.80A28.0 28.0 0 0 0 596.10 956.25Z" fill="#2db84d"/><path d="M609.20 931.50L596.10 956.25A28.0 28.0 0 0 0 596.71 956.56Z" fill="#0000ff"/><path d="M609.20 931.50L596.71 956.56A28.0 28.0 0 0 0 602.38 958.66Z" fill="#ffff00"/><path d="M609.20 931.50L602.38 958.66A28.0 28.0 0 0 0 610.18 959.48Z" fill="#ff00ff"/><path d="M609.20 931.50L610.18 959.48A28.0 28.0 0 0 0 610.67 959.46Z" fill="#7d287d"/><path d="M609.20 931.50L610.67 959.46A28.0 28.0 0 0 0 613.58 959.16Z" fill="#ffffff"/><path d="M609.20 931.50L613.58 959.16A28.0 28.0 0 0 0 637.16 930.08Z" fill="#f8981d"/><path d="M609.20 931.50L637.16 930.08A28.0 28.0 0 0 0 609.20 903.50Z" fill="#a5161a"/></g>
<text x="554.0" y="860.0" class="b">w</text>
<text x="609.5" y="860.0" class="b" text-anchor="middle">Brown</text>
<text x="41" y="8.8" class="h" textLength="79.0" lengthAdjust="spacingAndGlyphs">CVN VARIANTOR</text>
<text x="220.5" y="8.8" class="h" textLength="81.4" lengthAdjust="spacingAndGlyphs">CVN ENCHROMA</text>
<text x="469.6" y="8.8" class="h" textLength="81.8" lengthAdjust="spacingAndGlyphs">CVD ENCHROMA</text>
<text x="85.4" y="23.1" class="h" text-anchor="middle">5°</text>
<text x="265" y="23.1" class="h" text-anchor="middle">5°</text>
<text x="429.7" y="23.1" class="h" text-anchor="middle">5°</text>
<text x="609.6" y="23.1" class="h" text-anchor="middle">1°</text>
<rect x="1.4" y="1000.5" width="682.6" height="27" fill="#fff" stroke="#666" stroke-width="0.8"/>
<text x="9.6" y="1012" class="l2" textLength="10.7" lengthAdjust="spacingAndGlyphs">NF</text>
<text x="9.6" y="1024" class="l2" textLength="23.8" lengthAdjust="spacingAndGlyphs">F(V/E)</text>
<rect x="38.5" y="1004.6" width="28.6" height="8" fill="#ff0000" stroke="#444" stroke-width="0.6"/>
<rect x="38.5" y="1016.1" width="28.6" height="8" fill="#ff8080" stroke="#444" stroke-width="0.6"/>
<text x="69.6" y="1012" class="l">Red</text>
<text x="69.6" y="1024" class="l">Red</text>
<rect x="90.7" y="1004.6" width="28.6" height="8" fill="#2db84d" stroke="#444" stroke-width="0.6"/>
<rect x="90.7" y="1016.1" width="28.6" height="8" fill="#96dba6" stroke="#444" stroke-width="0.6"/>
<text x="122.4" y="1012" class="l">Green</text>
<text x="122.4" y="1024" class="l">Green</text>
<rect x="152.1" y="1004.6" width="28.6" height="8" fill="#0000ff" stroke="#444" stroke-width="0.6"/>
<rect x="152.1" y="1016.1" width="28.6" height="8" fill="#8080ff" stroke="#444" stroke-width="0.6"/>
<text x="183.3" y="1012" class="l">Blue</text>
<text x="183.3" y="1024" class="l">Blue</text>
<rect x="206.7" y="1004.6" width="28.6" height="8" fill="#ffff00" stroke="#444" stroke-width="0.6"/>
<rect x="206.7" y="1016.1" width="28.6" height="8" fill="#ffff80" stroke="#444" stroke-width="0.6"/>
<text x="238.3" y="1012" class="l">Yellow</text>
<text x="238.3" y="1024" class="l">Yellow</text>
<rect x="269.5" y="1004.6" width="28.6" height="8" fill="#ff00ff" stroke="#444" stroke-width="0.6"/>
<rect x="269.5" y="1016.1" width="28.6" height="8" fill="#ff80ff" stroke="#444" stroke-width="0.6"/>
<text x="300.6" y="1012" class="l">Pink</text>
<text x="300.6" y="1024" class="l">Pink</text>
<rect x="323.1" y="1004.6" width="28.6" height="8" fill="#7d287d" stroke="#444" stroke-width="0.6"/>
<rect x="323.1" y="1016.1" width="28.6" height="8" fill="#be93be" stroke="#444" stroke-width="0.6"/>
<text x="354.6" y="1012" class="l">Purple</text>
<text x="354.6" y="1024" class="l">Purple</text>
<rect x="385.5" y="1004.6" width="28.6" height="8" fill="#f0f0f0" stroke="#444" stroke-width="0.6"/>
<rect x="385.5" y="1016.1" width="28.6" height="8" fill="#f7f7f7" stroke="#444" stroke-width="0.6"/>
<text x="417.1" y="1012" class="l">Grey</text>
<text x="417.1" y="1024" class="l">Grey</text>
<rect x="441.6" y="1004.6" width="28.6" height="8" fill="#f8981d" stroke="#444" stroke-width="0.6"/>
<rect x="441.6" y="1016.1" width="28.6" height="8" fill="#fbcb8e" stroke="#444" stroke-width="0.6"/>
<text x="472.7" y="1012" class="l">Orange</text>
<text x="472.7" y="1024" class="l">Orange</text>
<rect x="507.3" y="1004.6" width="28.6" height="8" fill="#a5161a" stroke="#444" stroke-width="0.6"/>
<rect x="507.3" y="1016.1" width="28.6" height="8" fill="#d28a8c" stroke="#444" stroke-width="0.6"/>
<text x="538.6" y="1012" class="l">Brown</text>
<text x="538.6" y="1024" class="l">Brown</text>
<rect x="568.6" y="1004.6" width="28.6" height="8" fill="#000000" stroke="#444" stroke-width="0.6"/>
<rect x="568.6" y="1016.1" width="28.6" height="8" fill="#808080" stroke="#444" stroke-width="0.6"/>
<text x="600.2" y="1012" class="l">Black</text>
<text x="600.2" y="1024" class="l">Black</text>
<rect x="627.1" y="1004.6" width="28.6" height="8" fill="#ffffff" stroke="#444" stroke-width="0.6"/>
<rect x="627.1" y="1016.1" width="28.6" height="8" fill="#ffffff" stroke="#444" stroke-width="0.6"/>
<text x="658.2" y="1012" class="l">White</text>
<text x="658.2" y="1024" class="l">White</text>
</svg>
</body></html>
